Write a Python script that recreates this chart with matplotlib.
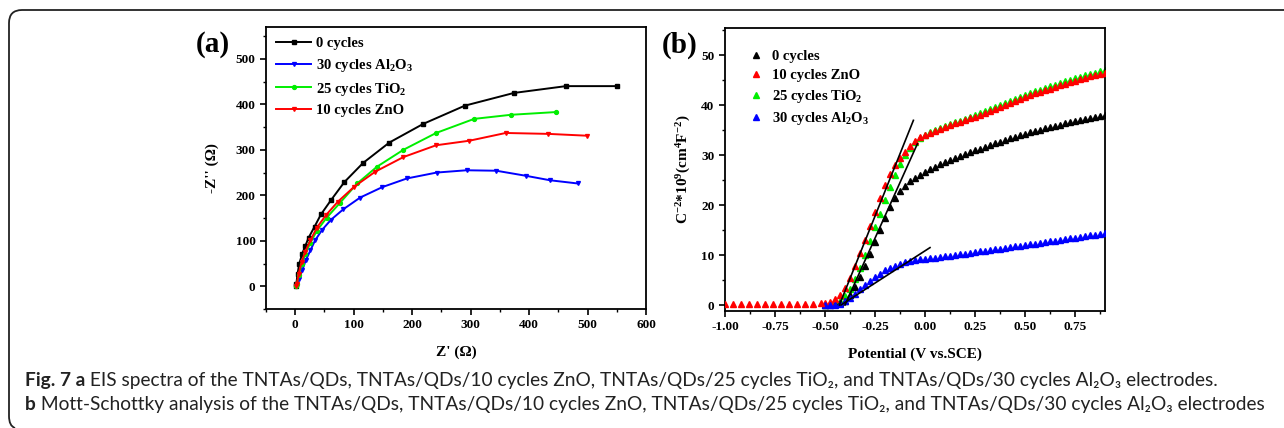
import matplotlib
matplotlib.use("Agg")
import matplotlib.pyplot as plt
from matplotlib.path import Path as MplPath
from matplotlib.patches import PathPatch
from matplotlib.ticker import MultipleLocator

# (a) EIS Nyquist curves (ohm)
EIS_LABELS = ["0 cycles", "30 cycles Al$_2$O$_3$", "25 cycles TiO$_2$", "10 cycles ZnO"]
EIS_COLORS = ["#000000", "#0000ff", "#00ee00", "#ff0000"]
EIS_MARKERS = ["s", "v", "o", "v"]

BLACK_ZRE = [1.5, 2, 4, 7, 12, 17, 23, 33, 44, 61, 84, 116, 161, 219, 290, 374, 463, 550]
BLACK_ZIM = [0, 6, 28, 50, 72, 88, 107, 131, 158, 189, 229, 271, 316, 357, 397, 425, 440, 440]

BLUE_ZRE = [2, 3, 7, 12, 18, 26, 34, 46, 61, 82, 111, 149, 191, 242, 293, 344, 394, 436, 483]
BLUE_ZIM = [0, 2, 17, 35, 57, 79, 101, 124, 146, 169, 195, 218, 237, 250, 255, 254, 243, 233, 226]

GREEN_ZRE = [2, 3, 6, 11, 17, 26, 37, 54, 77, 106, 140, 185, 241, 306, 369, 446]
GREEN_ZIM = [0, 6, 24, 48, 70, 96, 122, 151, 184, 226, 263, 300, 337, 368, 377, 383]

RED_ZRE = [1.5, 3, 6, 11, 17, 26, 37, 53, 73, 101, 137, 185, 241, 298, 360, 433, 499]
RED_ZIM = [0, 6, 28, 54, 76, 101, 129, 157, 186, 219, 252, 284, 310, 320, 337, 335, 331]

# (b) Mott-Schottky data (V vs SCE, 1e9 cm^4 F^-2)
MS_LABELS = ["0 cycles", "10 cycles ZnO", "25 cycles TiO$_2$", "30 cycles Al$_2$O$_3$"]
MS_COLORS = ["#000000", "#ff0000", "#00ee00", "#0000ff"]

POTENTIAL = [
    -0.5, -0.475, -0.45, -0.425, -0.4, -0.375, -0.35, -0.325, -0.3, -0.275,
    -0.25, -0.225, -0.2, -0.175, -0.15, -0.125, -0.1, -0.075, -0.05, -0.025,
    0.0, 0.025, 0.05, 0.075, 0.1, 0.125, 0.15, 0.175, 0.2, 0.225,
    0.25, 0.275, 0.3, 0.325, 0.35, 0.375, 0.4, 0.425, 0.45, 0.475,
    0.5, 0.525, 0.55, 0.575, 0.6, 0.625, 0.65, 0.675, 0.7, 0.725,
    0.75, 0.775, 0.8, 0.825, 0.85, 0.875, 0.9,
]
POTENTIAL_LOW = [-1.0, -0.96, -0.92, -0.88, -0.84, -0.8, -0.76, -0.72, -0.68, -0.64, -0.6, -0.56, -0.52]
ZNO_LOW = [0.3, 0.3, 0.3, 0.3, 0.3, 0.3, 0.3, 0.3, 0.3, 0.3, 0.3, 0.3, 0.35]

MS_BARE = [
    0.0, 0.1, 0.2, 0.4, 0.9, 2.0, 3.6, 5.6, 7.8, 10.2,
    12.6, 15.0, 17.4, 19.6, 21.4, 22.8, 23.9, 24.8, 25.5, 26.1,
    26.7, 27.2, 27.7, 28.2, 28.6, 29.0, 29.4, 29.8, 30.2, 30.6,
    31.0, 31.3, 31.7, 32.0, 32.4, 32.7, 33.0, 33.4, 33.7, 34.0,
    34.3, 34.6, 34.8, 35.1, 35.4, 35.6, 35.9, 36.1, 36.4, 36.6,
    36.8, 37.0, 37.2, 37.4, 37.6, 37.8, 38.0,
]
MS_ZNO = [
    0.4, 0.7, 1.2, 2.0, 3.4, 5.4, 7.8, 10.4, 13.1, 15.9,
    18.7, 21.5, 24.0, 26.2, 28.0, 29.5, 30.7, 31.9, 32.9, 33.6,
    34.1, 34.5, 34.9, 35.3, 35.7, 36.0, 36.4, 36.7, 37.1, 37.4,
    37.7, 38.1, 38.5, 38.9, 39.3, 39.7, 40.1, 40.5, 40.9, 41.3,
    41.7, 42.0, 42.4, 42.7, 43.0, 43.3, 43.7, 44.0, 44.3, 44.6,
    44.9, 45.2, 45.5, 45.8, 46.0, 46.3, 46.5,
]
MS_TIO2 = [
    0.1, 0.2, 0.4, 0.9, 1.8, 3.2, 5.2, 7.5, 10.0, 12.8,
    15.6, 18.3, 21.0, 23.6, 26.0, 28.2, 30.0, 31.5, 32.7, 33.5,
    34.1, 34.6, 35.0, 35.4, 35.8, 36.2, 36.6, 36.9, 37.3, 37.7,
    38.0, 38.4, 38.8, 39.2, 39.6, 40.0, 40.4, 40.8, 41.2, 41.6,
    42.0, 42.4, 42.8, 43.1, 43.4, 43.8, 44.1, 44.5, 44.8, 45.1,
    45.4, 45.7, 46.0, 46.3, 46.5, 46.8, 47.0,
]
MS_AL2O3 = [
    0.0, 0.0, 0.1, 0.3, 0.8, 1.5, 2.3, 3.2, 4.0, 4.8,
    5.6, 6.3, 7.0, 7.5, 7.9, 8.3, 8.6, 8.8, 9.0, 9.2,
    9.3, 9.4, 9.5, 9.6, 9.75, 9.9, 10.0, 10.15, 10.3, 10.45,
    10.6, 10.75, 10.9, 11.05, 11.2, 11.3, 11.45, 11.6, 11.75, 11.9,
    12.0, 12.15, 12.3, 12.45, 12.6, 12.75, 12.9, 13.05, 13.2, 13.35,
    13.5, 13.65, 13.8, 13.95, 14.1, 14.25, 14.4,
]

# linear fits drawn on the steep part (x pair, y pair)
FIT_LEFT = ([-0.428, -0.058], [0.0, 37.0])
FIT_RIGHT = ([-0.40, -0.038], [0.0, 32.3])
FIT_AL2O3 = ([-0.42, 0.025], [0.0, 11.5])

CAPTION_1 = [
    ("Fig. 7 a", "bold"),
    (" EIS spectra of the TNTAs/QDs, TNTAs/QDs/10 cycles ZnO, TNTAs/QDs/25 cycles TiO\u2082, "
     "and TNTAs/QDs/30 cycles Al\u2082O\u2083 electrodes.", "normal"),
]
CAPTION_2 = [
    ("b", "bold"),
    (" Mott-Schottky analysis of the TNTAs/QDs, TNTAs/QDs/10 cycles ZnO, TNTAs/QDs/25 cycles TiO\u2082, "
     "and TNTAs/QDs/30 cycles Al\u2082O\u2083 electrodes", "normal"),
]

plt.rcParams.update({
    "font.family": "Liberation Serif",
    "font.weight": "bold",
    "mathtext.fontset": "custom",
    "mathtext.rm": "Liberation Serif:bold",
    "mathtext.it": "Liberation Serif:italic:bold",
    "mathtext.bf": "Liberation Serif:bold",
    "mathtext.default": "rm",
    "axes.linewidth": 1.3,
    "axes.labelweight": "bold",
    "xtick.direction": "out",
    "ytick.direction": "out",
    "xtick.major.width": 1.2,
    "ytick.major.width": 1.2,
    "xtick.minor.width": 1.0,
    "ytick.minor.width": 1.0,
    "xtick.major.size": 4,
    "ytick.major.size": 4,
    "xtick.minor.size": 2.5,
    "ytick.minor.size": 2.5,
    "xtick.labelsize": 9.5,
    "ytick.labelsize": 9.5,
})

W, H = 1284, 428
fig = plt.figure(figsize=(W / 100, H / 100), dpi=100)


def px_axes(left, top, right, bottom):
    return fig.add_axes([left / W, 1 - bottom / H, (right - left) / W, (bottom - top) / H])


# ---- panel (a)
ax1 = px_axes(266, 27, 646, 309)
eis = [(BLACK_ZRE, BLACK_ZIM), (BLUE_ZRE, BLUE_ZIM), (GREEN_ZRE, GREEN_ZIM), (RED_ZRE, RED_ZIM)]
for (zre, zim), label, color, marker in zip(eis, EIS_LABELS, EIS_COLORS, EIS_MARKERS):
    ax1.plot(zre, zim, color=color, marker=marker, markersize=2.8, linewidth=1.4, label=label)
ax1.set_xlim(-50, 600)
ax1.set_ylim(-50, 570)
ax1.xaxis.set_major_locator(MultipleLocator(100))
ax1.xaxis.set_minor_locator(MultipleLocator(50))
ax1.yaxis.set_major_locator(MultipleLocator(100))
ax1.yaxis.set_minor_locator(MultipleLocator(50))
ax1.set_xlabel("Z' (\u03a9)", fontsize=11, fontweight="bold", labelpad=10)
ax1.set_ylabel("-Z'' (\u03a9)", fontsize=11, fontweight="bold", labelpad=12)
ax1.legend(loc="upper left", frameon=False, fontsize=10.5, handlelength=2.4, handletextpad=0.3,
           labelspacing=0.45, borderaxespad=0.3, bbox_to_anchor=(0.0, 1.0))
fig.text(213 / W, 1 - 45 / H, "(a)", fontsize=21, fontweight="bold", ha="center", va="center")

# ---- panel (b)
ax2 = px_axes(725, 28, 1105, 311)
ms = [MS_BARE, MS_ZNO, MS_TIO2, MS_AL2O3]
orders = [3, 3, 2, 3]
for values, label, color, z in zip(ms, MS_LABELS, MS_COLORS, orders):
    ax2.plot(POTENTIAL, values, linestyle="none", marker="^", markersize=4.6, color=color,
             label=label, zorder=z)
ax2.plot(POTENTIAL_LOW, ZNO_LOW, linestyle="none", marker="^", markersize=4.6, color=MS_COLORS[1], zorder=3)
for xs, ys in (FIT_LEFT, FIT_RIGHT, FIT_AL2O3):
    ax2.plot(xs, ys, color="black", linewidth=1.2, zorder=4)
ax2.set_xlim(-1.0, 0.9)
ax2.set_ylim(-1.2, 55.5)
ax2.xaxis.set_major_locator(MultipleLocator(0.25))
ax2.xaxis.set_minor_locator(MultipleLocator(0.125))
ax2.yaxis.set_major_locator(MultipleLocator(10))
ax2.yaxis.set_minor_locator(MultipleLocator(5))
ax2.xaxis.set_major_formatter(lambda v, p: f"{v:.2f}")
ax2.set_xlabel("Potential (V vs.SCE)", fontsize=11, fontweight="bold", labelpad=10)
ax2.set_ylabel("C$^{-2}$*10$^{9}$(cm$^{4}$F$^{-2}$)", fontsize=11, fontweight="bold", labelpad=6)
ax2.legend(loc="upper left", frameon=False, fontsize=10.5, handlelength=0.8, handletextpad=0.7,
           labelspacing=0.4, borderaxespad=0.3, bbox_to_anchor=(0.04, 0.96), markerscale=1.0)
fig.text(680 / W, 1 - 45 / H, "(b)", fontsize=21, fontweight="bold", ha="center", va="center")

# ---- outer frame (top and left edges, rounded corner)
pts = [(W, 10), (22, 10), (9, 10), (9, 23), (9, 416), (9, 426), (15, 428)]
codes = [MplPath.MOVETO, MplPath.LINETO, MplPath.CURVE3, MplPath.CURVE3,
         MplPath.LINETO, MplPath.CURVE3, MplPath.CURVE3]
frame = MplPath([(x / W, 1 - y / H) for x, y in pts], codes)
fig.add_artist(PathPatch(frame, transform=fig.transFigure, facecolor="none",
                         edgecolor="#222222", linewidth=1.3))

# ---- caption
cap_family = ["Lato", "DejaVu Sans"]


def caption_line(parts, y, size):
    texts = []
    prev = None
    renderer = fig.canvas.get_renderer()
    for text, weight in parts:
        x0 = 25 / W if prev is None else prev.get_window_extent(renderer).x1 / W
        t = fig.text(x0, 1 - y / H, text, fontsize=size, fontweight=weight, family=cap_family,
                     color="#222222", ha="left", va="baseline")
        texts.append(t)
        prev = t
    return texts


def line_width(texts):
    renderer = fig.canvas.get_renderer()
    return texts[-1].get_window_extent(renderer).x1 - texts[0].get_window_extent(renderer).x0


sizes = []
for parts, target in ((CAPTION_1, 1236 - 25), (CAPTION_2, 1262 - 25)):
    probe = caption_line(parts, 386, 12)
    sizes.append(12 * target / line_width(probe))
    for t in probe:
        t.remove()
size = min(sizes)
caption_line(CAPTION_1, 386, size)
caption_line(CAPTION_2, 410, size)

fig.savefig("out.png", dpi=100)
